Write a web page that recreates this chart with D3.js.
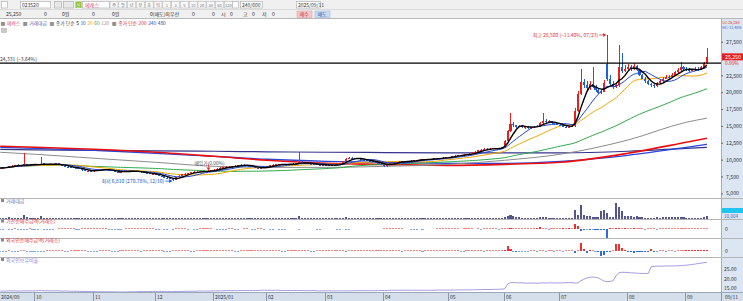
<!DOCTYPE html>
<html>
<head>
<meta charset="utf-8">
<script src="https://cdn.jsdelivr.net/npm/d3@7"></script>
<style>
  body { margin: 0; background: #fff; }
  svg { display: block; font-family: "Noto Sans CJK KR", "Noto Sans", sans-serif; }
</style>
</head>
<body>
<svg id="chart" width="743" height="301"></svg>
<script>
// trading calendar (KRX)
const firstDay = "2024-09-10";
const lastDay = "2025-09-10";
const holidays = ["2024-09-16", "2024-09-17", "2024-09-18", "2024-10-01", "2024-10-03", "2024-10-09",
  "2024-12-25", "2024-12-31", "2025-01-01", "2025-01-27", "2025-01-28", "2025-01-29", "2025-01-30",
  "2025-03-03", "2025-05-01", "2025-05-05", "2025-05-06", "2025-06-03", "2025-06-06", "2025-08-15"];
const monthLabels = ["2024/09", "10", "11", "12", "2025/01", "02", "03", "04", "05", "06", "07", "08", "09"];

// daily candles (won), one row per month
const opens = [
  8700,8750,8800,8950,9050,9100,9250,9150,9100,9350,9250,9200,
  9300,9250,9300,9450,9350,9300,9250,9300,9450,9200,9050,8950,8900,8850,8800,8750,8600,8400,8300,8350,
  8250,8400,8500,8550,8600,8500,8450,8300,8150,8100,8200,8300,8350,8250,8300,8200,8250,8100,8000,7950,7850,
  7900,7800,7600,7500,7300,7200,7100,7000,7400,7600,7800,7900,8000,8100,8200,8150,8250,8300,8200,8350,
  8400,8500,8650,8800,8900,8950,8850,9000,9100,9200,9250,9150,9100,9000,8900,8750,8700,8800,
  8850,9000,9150,9250,9300,9350,9300,9250,9300,9350,9400,9450,9700,9500,9450,9400,9350,9300,9250,9200,
  9250,9200,9150,9100,9200,9300,9500,9800,10100,10300,10250,10200,10100,10000,9900,9800,9750,9700,9600,9400,
  9200,9000,9300,9500,9600,9650,9700,9750,9700,9800,9850,9900,9950,10000,10050,10100,10050,10100,10200,10150,10250,10300,
  10350,10400,10500,10600,10700,10650,10750,10800,10900,11000,11200,11400,11500,11600,11550,11600,11700,11650,11700,
  11800,12800,14200,15300,15100,14900,15000,14800,14900,14700,14800,14900,15000,15400,15800,15600,15700,15400,15300,
  15200,15100,14900,14800,14900,15000,17200,19800,21500,21000,20600,21200,20800,20300,19900,20100,24200,22000,21200,20800,21000,23800,23200,
  23500,23800,23400,23900,23300,22500,22000,21600,21200,21000,20900,21300,21600,22000,22300,22200,22600,23000,23300,23700,
  23500,23400,23200,23300,23500,23400,23700,24300
];
const highs = [
  8800,8850,8950,9100,9150,9250,9300,9200,11000,9400,9300,9350,
  9350,9350,10350,9500,9400,9350,9350,9500,9500,9250,9100,9000,8950,8900,8850,8800,8650,8450,8400,8400,
  8450,8550,8600,8650,8650,8550,8500,8350,8200,8250,8350,8400,8400,8350,8350,8300,8300,8150,8050,8000,7950,
  7950,7850,7650,7550,7350,7250,7150,7450,7700,7850,7950,8050,8150,8250,8250,8300,8350,8350,8400,8450,
  8550,8700,8850,8950,9000,9000,9050,9150,9250,9300,9300,9200,9150,9050,8950,8800,8850,8900,
  9050,9200,9300,9350,9400,9400,9350,9350,9400,9450,9500,11100,9750,9550,9500,9450,9400,9350,9300,9300,
  9300,9250,9200,9250,9350,9550,9850,10200,10400,10400,10300,10250,10150,10050,9950,9850,9800,9750,9650,9450,
  9250,9350,9550,9650,9700,9750,9800,9800,9850,9900,9950,10000,10050,10100,10150,10150,10150,10250,10250,10300,10350,10400,
  10450,10550,10650,10750,10750,10800,10850,10950,11100,11300,11500,11600,11700,11650,11650,11750,11750,11750,11900,
  12900,14400,16900,15600,15200,15200,15100,15000,15000,14900,15000,15200,15600,16900,16000,15900,15800,15500,15400,
  15300,15200,15000,15000,15200,17600,20200,23500,22000,21600,21700,23800,21000,20500,20500,21800,28500,22600,21600,21300,27000,25800,24000,
  24200,24000,24300,24000,23500,22700,22200,21800,21400,21200,21500,21900,22200,22500,22600,22800,23200,23600,24500,23900,
  23700,23600,23500,23700,23700,23900,24500,26600
];
const lows = [
  8650,8700,8750,8900,9000,9050,9100,9050,9050,9200,9150,9150,
  9200,9200,9250,9300,9250,9200,9200,9250,9150,9000,8900,8850,8800,8750,8700,8550,8350,8250,8250,8200,
  8200,8350,8450,8500,8450,8400,8250,8100,8050,8050,8150,8250,8200,8200,8150,8150,8050,7950,7900,7800,7800,
  7750,7550,7450,7250,7150,7050,6810,6950,7350,7550,7750,7850,7950,8050,8100,8100,8200,8150,8150,8300,
  8350,8450,8600,8750,8850,8800,8800,8950,9050,9150,9100,9050,8950,8850,8700,8650,8650,8750,
  8800,8950,9100,9200,9250,9250,9200,9200,9250,9300,9350,9400,9450,9400,9350,9300,9250,9200,9150,9150,
  9150,9100,9050,9050,9150,9250,9450,9750,10050,10150,10150,10050,9950,9850,9750,9700,9650,9550,9350,9150,
  8950,8950,9250,9450,9550,9600,9650,9650,9650,9750,9800,9850,9900,9950,10000,10000,10000,10050,10100,10100,10200,10250,
  10300,10350,10450,10550,10600,10600,10700,10750,10850,10950,11150,11350,11450,11500,11500,11550,11600,11600,11650,
  11700,12700,14100,14900,14700,14800,14700,14600,14600,14600,14700,14800,14900,15300,15400,15500,15300,15200,15100,
  15000,14800,14700,14700,14800,14900,17000,19600,20700,20300,20400,20600,20100,19700,19800,20000,21600,21000,20500,20600,20800,22800,23000,
  23300,23200,23300,23200,22400,21900,21400,21000,20800,20600,20800,21200,21500,21900,22000,22100,22500,22900,23200,23300,
  23100,23000,23100,23200,23200,23300,23600,24200
];
const closes = [
  8750,8800,8900,9050,9100,9200,9150,9100,9350,9250,9200,9300,
  9250,9300,9400,9350,9300,9250,9300,9450,9200,9050,8950,8900,8850,8800,8750,8600,8400,8300,8350,8250,
  8400,8500,8550,8600,8500,8450,8300,8150,8100,8200,8300,8350,8250,8300,8200,8250,8100,8000,7950,7850,7900,
  7800,7600,7500,7300,7200,7100,7000,7400,7600,7800,7900,8000,8100,8200,8150,8250,8300,8200,8350,8400,
  8500,8650,8800,8900,8950,8850,9000,9100,9200,9250,9150,9100,9000,8900,8750,8700,8800,8850,
  9000,9150,9250,9300,9350,9300,9250,9300,9350,9400,9450,9700,9500,9450,9400,9350,9300,9250,9200,9250,
  9200,9150,9100,9200,9300,9500,9800,10100,10300,10250,10200,10100,10000,9900,9800,9750,9700,9600,9400,9200,
  9000,9300,9500,9600,9650,9700,9750,9700,9800,9850,9900,9950,10000,10050,10100,10050,10100,10200,10150,10250,10300,10350,
  10400,10500,10600,10700,10650,10750,10800,10900,11000,11200,11400,11500,11600,11550,11600,11700,11650,11700,11800,
  12800,14200,15300,15100,14900,15000,14800,14900,14700,14800,14900,15000,15400,15800,15600,15700,15400,15300,15200,
  15100,14900,14800,14900,15000,17200,19800,21500,21000,20600,21200,20800,20300,19900,20100,21300,22000,21200,20800,21000,23800,23200,23500,
  23800,23400,23900,23300,22500,22000,21600,21200,21000,20900,21300,21600,22000,22300,22200,22600,23000,23300,23700,23500,
  23400,23200,23300,23500,23400,23700,24300,25250
];

// 거래대금 (억원)
const tradeValue = [
  6,5,8,10,6,5,5,6,35,10,6,5,
  6,8,20,8,6,5,5,7,6,5,5,4,4,5,4,5,6,5,4,4,
  5,4,5,4,4,4,4,5,5,4,4,5,4,4,4,4,4,5,4,4,4,
  5,5,6,6,5,6,8,9,6,5,5,5,5,4,4,4,4,4,4,5,
  5,6,6,5,5,5,6,6,6,5,5,4,4,4,4,4,4,4,
  5,5,5,5,5,5,4,4,5,5,6,25,8,5,5,4,4,4,4,4,
  4,4,4,4,5,6,8,10,9,7,6,5,5,4,4,4,4,4,5,6,
  6,5,5,4,4,4,4,4,4,4,4,4,4,4,4,4,4,5,4,4,4,4,
  5,5,5,5,5,5,5,5,5,6,8,7,6,6,5,5,5,5,6,
  15,25,30,20,15,12,8,8,7,7,7,8,12,15,10,9,8,8,7,
  7,7,6,6,7,85,30,135,30,20,22,15,12,10,70,80,50,15,12,150,115,70,25,
  25,20,15,20,12,10,9,9,8,8,10,9,10,12,10,10,12,10,15,10,
  8,8,8,8,8,8,12,20
];
// 기관순매수금액 (억원)
const instNet = [
  -2,-1,0,-2,-1,2,-1,-2,-1,-1,2,-1,
  -1,-2,0,-1,-1,-2,-1,0,2,2,1,2,2,1,-1,-1,2,1,2,2,
  2,1,2,1,1,-1,-1,-2,-1,-1,0,2,1,2,1,1,2,1,2,2,1,
  -1,-1,0,-1,-2,0,-1,2,1,2,1,-1,0,-1,-1,2,1,2,2,1,
  0,-1,-1,-1,-1,2,1,-1,-1,0,2,1,0,-1,-1,2,1,-1,
  0,-1,-1,0,-1,-1,-1,0,0,0,0,-1,0,0,0,0,0,-1,-1,0,
  0,0,0,0,-1,-1,0,-1,-1,0,0,0,0,0,0,0,0,0,0,0,
  2,2,3,2,1,2,1,0,0,-1,-1,-1,0,-1,0,0,0,0,2,1,2,3,
  2,2,1,2,0,1,2,2,2,0,1,-1,2,1,2,2,2,-1,2,
  3,2,4,3,2,2,3,2,1,3,2,4,20,3,2,-3,2,2,3,
  3,4,2,4,3,50,30,-20,-4,-3,-6,-3,-4,-5,-8,-10,-90,4,3,5,4,3,4,
  3,2,4,3,3,2,-1,2,3,2,-2,2,3,3,2,3,2,3,2,3,
  2,3,2,3,2,3,2,3
];
// 외국인순매수금액 (억원)
const foreignNet = [
  -2,-1,-2,1,-1,-2,-1,1,2,-1,-2,-1,
  -2,-1,-2,-1,1,2,1,2,1,2,-1,-2,2,1,2,1,1,2,-1,-2,
  -1,-2,1,1,2,1,-1,-1,-2,1,2,1,1,2,1,2,-1,1,2,1,1,
  1,2,1,-1,-2,-1,1,2,1,2,1,1,-1,-2,1,2,1,1,2,1,
  2,1,1,2,1,2,1,-1,-1,1,2,1,1,2,1,1,2,1,
  1,2,1,1,2,-1,-1,1,2,1,2,1,1,2,1,-1,-2,1,2,1,
  1,2,1,1,2,1,1,-1,1,2,1,1,2,1,1,2,1,1,2,1,
  1,2,1,1,2,1,-1,1,2,1,1,2,1,-1,1,2,1,1,2,1,1,2,
  1,1,2,1,-1,-2,1,1,2,1,1,2,-1,1,1,2,1,1,2,
  5,50,20,-3,-4,-3,-2,-3,-2,3,2,-3,2,3,-2,3,2,-2,3,
  2,-3,2,3,2,-15,3,80,20,-20,5,3,-3,-5,-50,-40,-8,-5,3,70,70,30,5,
  -10,-12,-15,-10,-12,-8,-5,-10,20,-5,-3,3,2,-3,2,3,-2,3,2,3,
  10,12,15,10,12,15,10,12
];
// 외국인보유비율 (%)
const foreignRatio = [
  13.4,13.4,13.4,13.5,13.5,13.5,13.4,13.4,13.5,13.5,13.5,13.5,
  13.5,13.6,13.6,13.6,13.5,13.5,13.5,13.5,13.5,13.4,13.4,13.4,13.3,13.3,13.3,13.2,13.2,13.2,13.1,13.1,
  13.1,13.0,13.0,13.0,13.0,13.0,13.0,13.0,12.9,12.9,12.9,12.9,13.0,13.0,13.0,13.1,13.1,13.1,13.1,13.1,13.2,
  13.2,13.2,13.2,13.1,13.1,13.1,13.1,13.2,13.2,13.2,13.3,13.3,13.3,13.3,13.3,13.4,13.4,13.4,13.4,13.4,
  13.5,13.5,13.5,13.5,13.6,13.6,13.6,13.6,13.6,13.7,13.7,13.7,13.7,13.7,13.7,13.7,13.8,13.8,
  13.8,13.8,13.8,13.8,13.8,13.7,13.7,13.7,13.7,13.7,13.7,13.7,13.6,13.6,13.6,13.6,13.6,13.5,13.5,13.5,
  13.5,13.5,13.5,13.5,13.5,13.5,13.5,13.5,13.5,13.5,13.6,13.6,13.6,13.6,13.6,13.6,13.6,13.6,13.7,13.7,
  13.7,13.7,13.8,13.8,13.8,13.8,13.8,13.8,13.8,13.8,13.8,13.8,13.8,13.8,13.8,13.8,13.8,13.8,13.9,13.9,13.9,13.9,
  13.9,13.9,13.9,14.0,14.0,14.0,14.0,14.0,14.0,14.1,14.1,14.1,14.2,14.2,14.2,14.3,14.3,14.3,14.4,
  14.5,17.0,17.8,17.9,17.8,17.7,17.7,17.6,17.5,17.6,17.6,17.5,17.6,17.7,17.6,17.7,17.7,17.6,17.7,
  17.7,17.7,17.8,17.8,17.8,17.6,17.7,18.8,19.6,20.2,20.6,20.8,20.6,20.3,19.4,18.6,18.4,18.5,18.8,21.5,23.0,23.3,23.2,
  23.2,23.0,22.9,22.8,22.7,22.6,22.7,22.6,26.3,26.4,26.5,26.5,26.5,26.6,26.6,26.6,26.6,26.7,26.8,26.9,
  27.0,27.2,27.4,27.6,27.9,28.1,28.3,28.5
];

// long moving averages at month starts
const longMaDates = ["2024-09-10", "2024-10-02", "2024-11-01", "2024-12-02", "2025-01-02", "2025-02-03", "2025-03-04",
  "2025-04-01", "2025-05-02", "2025-06-02", "2025-07-01", "2025-08-01", "2025-09-01", "2025-09-10"];
const ma120 = [11090, 10790, 10200, 9600, 9000, 8850, 8850, 9000, 9300, 9900, 10800, 12900, 15550, 16150];
const ma200 = [11980, 11830, 11530, 11090, 10490, 9900, 9450, 9300, 9150, 9300, 9600, 10940, 12580, 13170];
const ma240 = [11830, 11680, 11380, 10940, 10490, 10050, 9750, 9600, 9450, 9450, 9750, 10640, 11830, 12280];
const ma480 = [11530, 11450, 11380, 11300, 11240, 11160, 11090, 11050, 11010, 11010, 11010, 11240, 11680, 11830];

const priceTicks = [5000, 7500, 10000, 12500, 15000, 17500, 20000, 22500, 25000, 27500];
const ratioTicks = [15, 20, 25];
const highMark = { date: "2025-07-23", price: 28500, text: "최고 28,500 (−11.40%, 07/23)" };
const lowMark = { date: "2024-12-10", price: 6810, text: "최저 6,810 (270.78%, 12/10)" };
const buyMark = { date: "2024-12-27", price: 8250, text: "매입가(0.00%)" };
const refLine = { price: 24331, text: "24,331 (−3.64%)" };

// ---------------------------------------------------------------
const svg = d3.select("#chart");
const W = 743, H = 301, axisX = 721;
const UP = "#ee1c1c", DOWN = "#1f5fdc";

const parse = d3.timeParse("%Y-%m-%d");
const fmt = d3.timeFormat("%Y-%m-%d");
const days = d3.timeDay
  .range(parse(firstDay), d3.timeDay.offset(parse(lastDay), 1))
  .filter(d => d.getDay() !== 0 && d.getDay() !== 6 && !holidays.includes(fmt(d)))
  .map(fmt);

const x = d3.scaleBand().domain(days).range([-1.2, 708.4]).paddingInner(0.3).paddingOuter(0.15);
const cx = d => x(d) + x.bandwidth() / 2;
const y = d3.scaleLinear().domain([5000, 27500]).range([193.3, 41.7]);
const yVol = d3.scaleLinear().domain([0, 160]).range([218.5, 202]);
const yInst = d3.scaleLinear().domain([-100, 100]).range([239, 219]);
const yFor = d3.scaleLinear().domain([-100, 100]).range([261, 241]);
const yRatio = d3.scaleLinear().domain([15, 25]).range([288, 269]);

const candles = days.map((d, i) => ({ d, o: opens[i], h: highs[i], l: lows[i], c: closes[i] }));

// lays texts out one after another, measuring each
function flow(g, items, x0, yPos, gap) {
  let cur = x0;
  items.forEach(([t, color, extra]) => {
    const el = g.append("text").attr("x", cur).attr("y", yPos).attr("fill", color).text(t);
    cur += el.node().getComputedTextLength() + gap + (extra || 0);
  });
  return cur;
}

// ---------- toolbar ----------
const bar = svg.append("g").attr("font-size", 5);
bar.append("rect").attr("width", W).attr("height", 18.5).attr("fill", "#f0f0f0");
bar.append("line").attr("x1", 0).attr("x2", W).attr("y1", 9.5).attr("y2", 9.5).attr("stroke", "#dadada");
bar.append("line").attr("x1", 0).attr("x2", W).attr("y1", 18.5).attr("y2", 18.5).attr("stroke", "#b8b8b8");

const boxes = [
  [1, 6, "#fff"], [20, 30, "#fff"], [54, 7, "#e8e8e8"], [63, 10, "#e8e8e8"], [82, 27, "#fff"],
  [240, 22, "#fff"], [296, 24, "#fff"], [232, 6, "#fff"]
];
bar.selectAll("rect.box").data(boxes).join("rect").attr("class", "box")
  .attr("x", d => d[0] + 0.5).attr("y", 1.5).attr("width", d => d[1]).attr("height", 6.5)
  .attr("fill", d => d[2]).attr("stroke", "#a8a8a8").attr("stroke-width", 0.6);
bar.append("rect").attr("x", 75.5).attr("y", 1.5).attr("width", 6).attr("height", 6.5).attr("fill", "#8cbf3c");
bar.append("text").attr("x", 76.3).attr("y", 6.5).attr("fill", "#fff").attr("font-size", 4.5).text("신");
bar.append("text").attr("x", 22).attr("y", 6.6).attr("fill", "#333").text("023520");
bar.append("text").attr("x", 85).attr("y", 6.6).attr("fill", "#e0407a").text("메캐스");
const periods = ["주", "월", "년", "분", "초", "틱", "1", "3", "5", "10", "20", "30", "60", "120"];
bar.selectAll("g.per").data(periods).join("g").attr("class", "per")
  .attr("transform", (d, i) => `translate(${110 + i * 8.8},1.5)`)
  .each(function(d) {
    d3.select(this).append("rect").attr("width", 8).attr("height", 6.5)
      .attr("fill", "#f7f7f7").attr("stroke", "#b0b0b0").attr("stroke-width", 0.5);
    d3.select(this).append("text").attr("x", 4).attr("y", 5.1).attr("text-anchor", "middle")
      .attr("fill", "#777").attr("font-size", 4).text(d);
  });
bar.append("text").attr("x", 242).attr("y", 6.6).attr("fill", "#333").text("240/600");
bar.append("text").attr("x", 298).attr("y", 6.6).attr("fill", "#333").text("2025/09/11");

const row2 = [[6, "25,250"], [44, "0"], [62, "0원"], [92, "0"], [112, "0원"], [150, "0(매도)최우선"],
  [192, "0"], [212, "0"], [221, "시"], [230, "0"], [243, "고"], [252, "0"], [262, "저"], [272, "0"]];
bar.selectAll("text.r2").data(row2).join("text").attr("class", "r2")
  .attr("x", d => d[0]).attr("y", 15.8).attr("fill", "#333").text(d => d[1]);
bar.append("rect").attr("x", 297).attr("y", 11).attr("width", 15).attr("height", 6.5).attr("fill", "#f6c8c8").attr("stroke", "#d89898").attr("stroke-width", 0.5);
bar.append("text").attr("x", 299.5).attr("y", 15.8).attr("fill", "#c03030").text("매수");
bar.append("rect").attr("x", 315).attr("y", 11).attr("width", 15).attr("height", 6.5).attr("fill", "#c8dcf4").attr("stroke", "#98b0d8").attr("stroke-width", 0.5);
bar.append("text").attr("x", 317.5).attr("y", 15.8).attr("fill", "#3050a0").text("매도");

// ---------- legend ----------
const legendItems = [
  ["■", "#909090"], ["메캐스", "#e0407a", 1], ["■", "#909090"], ["거래대금", "#5060b0", 1],
  ["■", "#909090"], ["종가 단순", "#404040"], ["5", "#000"], ["10", "#2040d0"], ["20", "#f0a000"],
  ["60", "#30a040"], ["120", "#909090", 1], ["■", "#909090"], ["종가 단순", "#e02020"],
  ["200", "#e02020"], ["240", "#2040d0"], ["480", "#303090"]
];
flow(svg.append("g").attr("font-size", 4.8), legendItems, 0.5, 24.5, 1.6);
svg.append("rect").attr("x", 1.5).attr("y", 28.5).attr("width", 5).attr("height", 4).attr("fill", "#c8c8c8").attr("stroke", "#999").attr("stroke-width", 0.4);

// ---------- right axis column ----------
svg.append("rect").attr("x", axisX).attr("y", 19).attr("width", W - axisX).attr("height", H - 19).attr("fill", "#dce6f2");
svg.append("line").attr("x1", axisX + 0.5).attr("x2", axisX + 0.5).attr("y1", 19).attr("y2", H).attr("stroke", "#9eb0c4");

// ---------- panel separators ----------
[198.5, 219.5, 238.5, 257.5].forEach(v => {
  svg.append("line").attr("x1", 0).attr("x2", W).attr("y1", v).attr("y2", v).attr("stroke", "#b4b4b4");
});

// ---------- price panel ----------
svg.append("clipPath").attr("id", "pclip").append("rect").attr("x", 0).attr("y", 27).attr("width", axisX).attr("height", 171);
const price = svg.append("g").attr("clip-path", "url(#pclip)");

const sma = n => closes.map((c, i) => d3.mean(closes.slice(Math.max(0, i - n + 1), i + 1)));
const lineIdx = d3.line().x((v, i) => cx(days[i])).y(v => y(v));
const lineLong = d3.line().x(d => cx(d.d)).y(d => y(d.v)).curve(d3.curveMonotoneX);

const longMas = [[ma480, "#34348c", 1.2], [ma240, "#2a46d8", 1.3], [ma200, "#e81010", 1.6], [ma120, "#8c8c8c", 1]];
longMas.forEach(([vals, color, w]) => {
  price.append("path").datum(vals.map((v, i) => ({ d: longMaDates[i], v })))
    .attr("d", lineLong).attr("fill", "none").attr("stroke", color).attr("stroke-width", w);
});
[[60, "#2fa84a", 1], [20, "#f2a600", 1]].forEach(([n, color, w]) => {
  price.append("path").datum(sma(n)).attr("d", lineIdx).attr("fill", "none").attr("stroke", color).attr("stroke-width", w);
});

// candles
const cg = price.append("g").attr("shape-rendering", "crispEdges");
cg.selectAll("line").data(candles).join("line")
  .attr("x1", d => Math.round(cx(d.d))).attr("x2", d => Math.round(cx(d.d)))
  .attr("y1", d => y(d.h)).attr("y2", d => y(d.l))
  .attr("stroke", d => d.c >= d.o ? UP : DOWN).attr("stroke-width", 1);
cg.selectAll("rect").data(candles).join("rect")
  .attr("x", d => x(d.d)).attr("width", x.bandwidth())
  .attr("y", d => y(Math.max(d.o, d.c)))
  .attr("height", d => Math.max(1, Math.abs(y(d.o) - y(d.c))))
  .attr("fill", d => d.c >= d.o ? UP : DOWN);

[[10, "#2346c8", 1], [5, "#000", 1.4]].forEach(([n, color, w]) => {
  price.append("path").datum(sma(n)).attr("d", lineIdx).attr("fill", "none").attr("stroke", color).attr("stroke-width", w);
});

// reference line
price.append("line").attr("x1", 0).attr("x2", axisX).attr("y1", y(refLine.price)).attr("y2", y(refLine.price))
  .attr("stroke", "#000").attr("stroke-width", 1.3);
svg.append("text").attr("x", 0).attr("y", y(refLine.price) - 2).attr("font-size", 5).attr("fill", "#333").text(refLine.text);

// high / low marks
function mark(m, color) {
  const px = cx(m.date), py = y(m.price);
  svg.append("text").attr("x", px - 9).attr("y", py + 2).attr("text-anchor", "end")
    .attr("font-size", 5).attr("fill", color).text(m.text);
  svg.append("line").attr("x1", px - 8).attr("x2", px - 2).attr("y1", py).attr("y2", py).attr("stroke", color).attr("stroke-width", 0.8);
  svg.append("path").attr("d", `M${px - 1},${py} l-3,-2 v4 z`).attr("fill", color);
}
mark(highMark, "#e03030");
mark(lowMark, "#2050d0");
{
  const px = cx(buyMark.date), py = y(buyMark.price);
  svg.append("text").attr("x", px - 14).attr("y", py - 6).attr("font-size", 4.8).attr("fill", "#555").text(buyMark.text);
  svg.append("path").attr("d", `M${px},${py - 1} l-2,-3 h4 z`).attr("fill", "#e03030");
  svg.append("line").attr("x1", px).attr("x2", px).attr("y1", py - 4).attr("y2", py - 7).attr("stroke", "#e03030").attr("stroke-width", 0.8);
}

// price axis (the tick hidden under the current-price box is left out)
const last = candles[candles.length - 1];
const pAxis = svg.append("g").attr("transform", `translate(${axisX},0)`)
  .call(d3.axisRight(y).tickValues(priceTicks.filter(t => Math.abs(y(t) - y(last.c)) > 8))
    .tickSize(2).tickPadding(3).tickFormat(d3.format(",")));
pAxis.select(".domain").remove();
pAxis.selectAll("text").attr("font-size", 5.2).attr("fill", "#333").attr("font-family", "Noto Sans CJK KR");
pAxis.selectAll("line").attr("stroke", "#667");

svg.append("rect").attr("x", axisX + 1).attr("y", y(last.c) - 3.5).attr("width", W - axisX - 1).attr("height", 7).attr("fill", "#e41e1e");
svg.append("text").attr("x", axisX + 4).attr("y", y(last.c) + 2).attr("font-size", 5.2).attr("fill", "#fff").text(d3.format(",")(last.c));
svg.append("text").attr("x", axisX + 4).attr("y", y(last.c) + 8.5).attr("font-size", 4.8).attr("fill", "#e41e1e").text("0.00%");
svg.append("text").attr("x", axisX + 1.5).attr("y", 24).attr("font-size", 3.8).attr("fill", "#e02020").text("LC:25,250");
svg.append("text").attr("x", axisX + 1.2).attr("y", 29).attr("font-size", 3.6).attr("fill", "#3060d0").text("HC:-11.40%");

// ---------- lower panels ----------
const panelLabels = [[202.5, "거래대금", "#6070a8"], [223, "기관순매수금액(거래소)", "#e03030"],
  [242, "외국인순매수금액(거래소)", "#e03030"], [261.5, "외국인보유비율", "#8c84d0"]];
panelLabels.forEach(([py, t, c]) => {
  svg.append("rect").attr("x", 1).attr("y", py - 3.5).attr("width", 3).attr("height", 3).attr("fill", "#888");
  svg.append("text").attr("x", 6).attr("y", py).attr("font-size", 5).attr("fill", c).text(t);
});

const lower = svg.append("g").attr("shape-rendering", "crispEdges");
lower.selectAll("rect.vol").data(days).join("rect").attr("class", "vol")
  .attr("x", d => x(d)).attr("width", x.bandwidth())
  .attr("y", (d, i) => Math.min(yVol(tradeValue[i]), yVol(0) - 1))
  .attr("height", (d, i) => Math.max(1, yVol(0) - yVol(tradeValue[i])))
  .attr("fill", "#55558f");

function netBars(cls, vals, ys) {
  const rows = days.map((d, i) => ({ d, v: vals[i] })).filter(r => r.v !== 0);
  lower.selectAll("rect." + cls).data(rows).join("rect").attr("class", cls)
    .attr("x", r => x(r.d)).attr("width", x.bandwidth())
    .attr("y", r => r.v > 0 ? Math.min(ys(r.v), ys(0) - 1) : ys(0))
    .attr("height", r => Math.max(1, Math.abs(ys(r.v) - ys(0))))
    .attr("fill", r => r.v > 0 ? "#f03030" : "#2f6ae0")
    .attr("opacity", r => Math.abs(r.v) < 4 ? 0.6 : 1);
}
netBars("inst", instNet, yInst);
netBars("for", foreignNet, yFor);

svg.append("path").datum(foreignRatio).attr("fill", "none").attr("stroke", "#a49ce0").attr("stroke-width", 1)
  .attr("d", d3.line().x((v, i) => cx(days[i])).y(v => yRatio(v)));

// lower axes
const ax = svg.append("g").attr("font-size", 5).attr("fill", "#333");
svg.append("rect").attr("x", axisX + 1).attr("y", 208).attr("width", W - axisX - 1).attr("height", 5).attr("fill", "#22c4f0");
ax.append("text").attr("x", axisX + 3).attr("y", 212.3).attr("fill", "#fff").text("0");
ax.append("text").attr("x", axisX + 3).attr("y", 217.5).attr("fill", "#3070d0").attr("font-size", 4.6).text("10,004");
ax.append("text").attr("x", axisX + 4).attr("y", yInst(0) + 2).text("0");
ax.append("text").attr("x", axisX + 4).attr("y", yFor(0) + 2).text("0");
ratioTicks.forEach(t => {
  ax.append("text").attr("x", axisX + 3).attr("y", yRatio(t) + 2).text(d3.format(".2f")(t));
});

// ---------- x axis ----------
svg.append("rect").attr("x", 0).attr("y", 292).attr("width", W).attr("height", 9).attr("fill", "#d5dfeb");
svg.append("line").attr("x1", 0).attr("x2", W).attr("y1", 292.5).attr("y2", 292.5).attr("stroke", "#9aa8b8");
const monthStarts = days.filter((d, i) => i === 0 || d.slice(0, 7) !== days[i - 1].slice(0, 7));
const xa = svg.append("g").attr("font-size", 5).attr("fill", "#333");
monthStarts.forEach((d, i) => {
  const tx = Math.round(x(d)) + 0.5;
  if (i > 0) xa.append("line").attr("x1", tx).attr("x2", tx).attr("y1", 293).attr("y2", 301).attr("stroke", "#8a98a8");
  xa.append("text").attr("x", i === 0 ? 1 : tx + 1.5).attr("y", 299).text(monthLabels[i]);
});
xa.append("line").attr("x1", axisX + 0.5).attr("x2", axisX + 0.5).attr("y1", 293).attr("y2", 301).attr("stroke", "#8a98a8");
xa.append("text").attr("x", axisX + 4).attr("y", 299).text("09/11");
</script>
</body>
</html>
